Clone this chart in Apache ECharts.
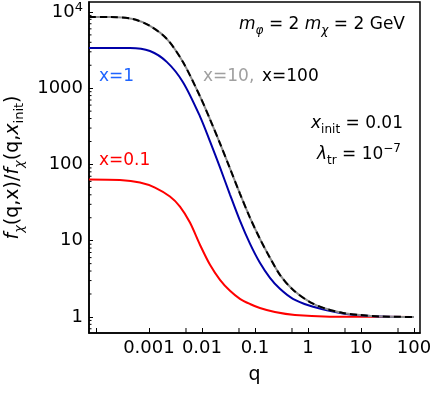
<!DOCTYPE html>
<html>
<head>
<meta charset="utf-8">
<script src="https://cdn.jsdelivr.net/npm/echarts@6/dist/echarts.min.js"></script>
<style>
  html, body { margin: 0; padding: 0; background: #fff; }
  #chart { width: 432px; height: 394px; }
</style>
</head>
<body>
<div id="chart"></div>
<script>
const FONT = 'DejaVu Sans'

// axis ranges
const qMin = 7.4e-5
const qMax = 130
const fMin = 0.616
const fMax = 13500

// tick labels
const qLabelValues = [0.001, 0.01, 0.1, 1, 10, 100]
const qLabelTexts = ['0.001', '0.01', '0.1', '1', '10', '100']
const fLabelValues = [1, 10, 100, 1000, 10000]
const fLabelTexts = ['1', '10', '100', '1000', '10{sup|4}']

// extra ticks that the log axis does not draw by itself
const qExtraTicks = [0.005, 0.05, 0.5, 5, 50]
const fMinorTicks = [0.7, 0.8, 0.9,
  2, 3, 4, 5, 6, 7, 8, 9,
  20, 30, 40, 50, 60, 70, 80, 90,
  200, 300, 400, 500, 600, 700, 800, 900,
  2000, 3000, 4000, 5000, 6000, 7000, 8000, 9000]

// x = 0.1
const qRed = [7.4e-5, 2.84e-4, 6.76e-4, 1.3e-3, 2.49e-3, 3.85e-3, 5.94e-3, 9.17e-3, 0.0142, 0.0219, 0.0338, 0.0521, 0.0805, 0.124, 0.238, 0.569, 2.6, 100]
const fRed = [63.5, 62.5, 58.0, 49.8, 37.9, 28.0, 17.3, 8.86, 4.83, 3.07, 2.2, 1.73, 1.48, 1.31, 1.16, 1.06, 1.01, 1.0]

// x = 1
const qBlue = [7.4e-5, 4.38e-4, 1.045e-3, 2.19e-3, 4.39e-3, 9.17e-3, 0.0142, 0.0219, 0.0338, 0.0521, 0.0805, 0.124, 0.192, 0.296, 0.521, 1.09, 2.28, 4.57, 9.57, 22.8, 100]
const fBlue = [3360, 3360, 3070, 2198, 1199, 428, 201, 91.3, 40.3, 18.3, 9.14, 5.13, 3.26, 2.34, 1.73, 1.40, 1.22, 1.11, 1.05, 1.015, 1.0]

// x = 10
const qGray = [7.4e-5, 1.84e-4, 4.99e-4, 1.045e-3, 2.19e-3, 4.39e-3, 9.17e-3, 0.0142, 0.0219, 0.0338, 0.0521, 0.0805, 0.124, 0.192, 0.296, 0.521, 1.09, 2.28, 4.57, 9.57, 22.8, 100]
const fGray = [8600, 8600, 8090, 6550, 4410, 2198, 785, 391, 189, 88.6, 41.5, 20.1, 10.6, 5.97, 3.57, 2.27, 1.57, 1.27, 1.13, 1.06, 1.015, 1.0]

// x = 100 (on top of x = 10)
const qBlack = [7.4e-5, 1.84e-4, 4.99e-4, 1.045e-3, 2.19e-3, 4.39e-3, 9.17e-3, 0.0142, 0.0219, 0.0338, 0.0521, 0.0805, 0.124, 0.192, 0.296, 0.521, 1.09, 2.28, 4.57, 9.57, 22.8, 100]
const fBlack = [8600, 8600, 8090, 6550, 4410, 2198, 785, 391, 189, 88.6, 41.5, 20.1, 10.6, 5.97, 3.57, 2.27, 1.57, 1.27, 1.13, 1.06, 1.015, 1.0]

const zip = (a, b) => a.map((v, i) => [v, b[i]])

function pickLabel(values, texts, v) {
  for (let i = 0; i < values.length; i++) {
    if (Math.abs(Math.log10(v) - Math.log10(values[i])) < 0.01) return texts[i]
  }
  return ''
}

function curve(name, q, f, color, dash) {
  return {
    name: name,
    type: 'line',
    data: zip(q, f),
    showSymbol: false,
    smooth: 0.3,
    silent: true,
    lineStyle: { color: color, width: 2, type: dash || 'solid' }
  }
}

function tickSeries(data, dir, len) {
  return {
    type: 'custom',
    silent: true,
    clip: false,
    z: 5,
    data: data,
    renderItem: (params, api) => {
      const p = api.coord([api.value(0), api.value(1)])
      const shape = dir === 'x'
        ? { x1: p[0], y1: p[1], x2: p[0], y2: p[1] - len }
        : { x1: p[0], y1: p[1], x2: p[0] + len, y2: p[1] }
      return { type: 'line', shape: shape, style: { stroke: '#000', lineWidth: 1 } }
    }
  }
}

const sub = { fontFamily: FONT, fontSize: 12, lineHeight: 12, verticalAlign: 'bottom' }
const subItalic = Object.assign({}, sub, { fontStyle: 'italic' })
const annotationRich = {
  i: { fontFamily: FONT, fontSize: 17, fontStyle: 'italic', lineHeight: 24 },
  si: subItalic,
  s: sub,
  sup: { fontFamily: FONT, fontSize: 12, lineHeight: 12, verticalAlign: 'top' }
}

function note(text, x, y, color, align) {
  return {
    type: 'text',
    x: x,
    y: y,
    z: 10,
    style: {
      text: text,
      fontFamily: FONT,
      fontSize: 17,
      lineHeight: 24,
      fill: color,
      align: align || 'left',
      verticalAlign: 'middle',
      rich: annotationRich
    }
  }
}

const chart = echarts.init(document.getElementById('chart'))

chart.setOption({
  animation: false,
  backgroundColor: '#fff',
  grid: {
    left: 89, right: 12, top: 2, bottom: 61,
    show: true, borderColor: '#000', borderWidth: 1.5,
    outerBoundsMode: 'none'
  },
  xAxis: {
    type: 'log',
    min: qMin,
    max: qMax,
    name: 'q',
    nameLocation: 'middle',
    nameGap: 33,
    nameTextStyle: { fontFamily: FONT, fontSize: 19, color: '#000' },
    axisLine: { lineStyle: { color: '#000', width: 1.5 } },
    axisTick: { inside: true, length: 5, lineStyle: { color: '#000', width: 1 } },
    axisLabel: {
      fontFamily: FONT, fontSize: 18, color: '#000', margin: 6,
      showMinLabel: false, showMaxLabel: false,
      formatter: v => pickLabel(qLabelValues, qLabelTexts, v)
    },
    splitLine: { show: false }
  },
  yAxis: {
    type: 'log',
    min: fMin,
    max: fMax,
    name: '{i|f}{si|χ}(q,x)/{i|f}{si|χ}(q,{i|x}{s|init})',
    nameLocation: 'middle',
    nameRotate: 90,
    nameGap: 56,
    nameTextStyle: {
      fontFamily: FONT, fontSize: 19, color: '#000', lineHeight: 26,
      rich: {
        i: { fontFamily: FONT, fontSize: 19, fontStyle: 'italic', lineHeight: 26 },
        si: { fontFamily: FONT, fontSize: 13, fontStyle: 'italic', lineHeight: 13, verticalAlign: 'bottom' },
        s: { fontFamily: FONT, fontSize: 13, lineHeight: 13, verticalAlign: 'bottom' }
      }
    },
    axisLine: { lineStyle: { color: '#000', width: 1.5 } },
    axisTick: { inside: true, length: 4, lineStyle: { color: '#000', width: 1 } },
    axisLabel: {
      fontFamily: FONT, fontSize: 18, color: '#000', margin: 6, lineHeight: 22,
      showMinLabel: false, showMaxLabel: false,
      formatter: v => pickLabel(fLabelValues, fLabelTexts, v),
      rich: { sup: { fontFamily: FONT, fontSize: 13, lineHeight: 12, verticalAlign: 'top' } }
    },
    splitLine: { show: false }
  },
  series: [
    curve('x=0.1', qRed, fRed, '#ff0000'),
    curve('x=1', qBlue, fBlue, '#0000a8'),
    curve('x=10', qGray, fGray, '#8c8c8c'),
    curve('x=100', qBlack, fBlack, '#000000', [7, 4]),
    tickSeries(qExtraTicks.map(q => [q, fMin]), 'x', 5),
    tickSeries(fMinorTicks.map(f => [qMin, f]), 'y', 2.5)
  ],
  graphic: [
    note('{i|m}{si|φ} = 2 {i|m}{si|χ} = 2 GeV', 405, 25, '#000', 'right'),
    note('x=1', 99, 77, '#1e64ff'),
    note('x=10,', 203, 77, '#a0a0a0'),
    note('x=100', 262, 77, '#000'),
    note('x=0.1', 99, 161, '#ff0000'),
    note('{i|x}{s|init} = 0.01', 403, 124, '#000', 'right'),
    note('{i|λ}{s|tr} = 10{sup|−7}', 401, 155, '#000', 'right')
  ]
})
</script>
</body>
</html>
